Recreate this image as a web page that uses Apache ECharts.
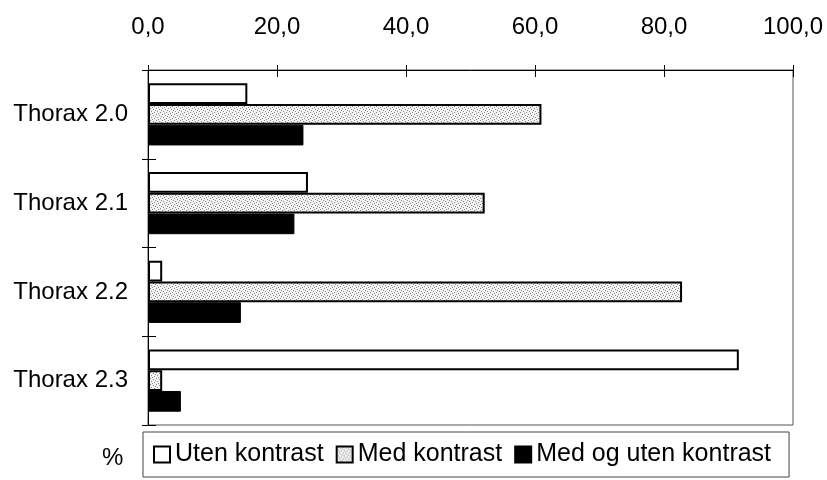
<html lang="no">

<head>
  <meta charset="utf-8">
  <title>Thorax</title>
  <style>
    html, body { margin: 0; padding: 0; background: #fff; }
    #chart { width: 827px; height: 480px; }
  </style>
</head>

<body>
  <div id="chart"></div>
</body>

<script src="https://cdn.jsdelivr.net/npm/echarts@6/dist/echarts.min.js"></script>

<script>

  // data (percent)
  var categories = ['Thorax 2.0', 'Thorax 2.1', 'Thorax 2.2', 'Thorax 2.3'];
  var utenKontrast = [15.4, 24.8, 2.2, 91.6];
  var medKontrast = [61.0, 52.2, 82.8, 2.2];
  var medOgUten = [24.1, 22.7, 14.4, 5.1];
  var xTicks = { min: 0, max: 100, interval: 20 };

  var font = "'Liberation Sans', Arial, sans-serif";

  // speckled grey fill like the scanned original
  var tile = document.createElement('canvas');
  tile.width = 6;
  tile.height = 6;
  var ctx = tile.getContext('2d');
  ctx.fillStyle = '#f2f2f2';
  ctx.fillRect(0, 0, 6, 6);
  ctx.fillStyle = '#8c8c8c';
  [[0, 0], [3, 1], [1, 3], [4, 4], [5, 2], [2, 5]].forEach(function (p) {
    ctx.fillRect(p[0], p[1], 1, 1);
  });
  var grey = { image: tile, repeat: 'repeat' };

  var plot = echarts.init(document.getElementById('chart'));

  option = {
    animation: false,
    textStyle: { fontFamily: font, color: '#000' },
    title: {
      text: '%',
      left: 97,
      top: 441,
      textStyle: { fontFamily: font, fontSize: 24, fontWeight: 'normal', color: '#000' }
    },
    grid: {
      left: 148,
      right: 34,
      top: 70,
      bottom: 55,
      show: true,
      borderColor: '#555',
      borderWidth: 1
    },
    legend: {
      left: 143,
      top: 432,
      orient: 'horizontal',
      padding: [10, 18, 10, 10],
      itemGap: 12,
      itemWidth: 16,
      itemHeight: 16,
      borderColor: '#444',
      borderWidth: 1,
      icon: 'rect',
      textStyle: { fontFamily: font, fontSize: 25, color: '#000' },
      data: ['Uten kontrast', 'Med kontrast', 'Med og uten kontrast']
    },
    xAxis: [{
      type: 'value',
      position: 'top',
      min: xTicks.min,
      max: xTicks.max,
      interval: xTicks.interval,
      axisLine: { show: true, lineStyle: { color: '#000', width: 1 } },
      axisTick: { show: true, inside: true, length: 7, lineStyle: { color: '#000' } },
      axisLabel: {
        margin: 31,
        fontSize: 24,
        color: '#000',
        fontFamily: font,
        formatter: function (v) { return v.toFixed(1).replace('.', ','); }
      },
      splitLine: { show: false }
    }, {
      type: 'value',
      position: 'top',
      min: xTicks.min,
      max: xTicks.max,
      interval: xTicks.interval,
      axisLine: { show: false },
      axisTick: { show: true, inside: false, length: 5, lineStyle: { color: '#000' } },
      axisLabel: { show: false },
      splitLine: { show: false }
    }],
    yAxis: [{
      type: 'category',
      inverse: true,
      data: categories,
      axisLine: { show: true, lineStyle: { color: '#000', width: 1 } },
      axisTick: { show: true, inside: false, length: 6, lineStyle: { color: '#000' } },
      axisLabel: {
        margin: 20,
        fontSize: 24,
        color: '#000',
        fontFamily: font,
        padding: [0, 0, 10, 0]
      }
    }, {
      type: 'category',
      inverse: true,
      position: 'left',
      data: categories,
      axisLine: { show: false },
      axisTick: { show: true, inside: true, length: 8, lineStyle: { color: '#000' } },
      axisLabel: { show: false }
    }],
    series: [{
      name: 'Uten kontrast',
      type: 'bar',
      data: utenKontrast,
      barGap: '0%',
      barCategoryGap: '30%',
      itemStyle: { color: '#fff', borderColor: '#000', borderWidth: 2 }
    }, {
      name: 'Med kontrast',
      type: 'bar',
      data: medKontrast,
      itemStyle: { color: grey, borderColor: '#000', borderWidth: 2 }
    }, {
      name: 'Med og uten kontrast',
      type: 'bar',
      data: medOgUten,
      itemStyle: { color: '#000', borderColor: '#000', borderWidth: 1 }
    }]
  };

  plot.setOption(option = option);

</script>

</html>
